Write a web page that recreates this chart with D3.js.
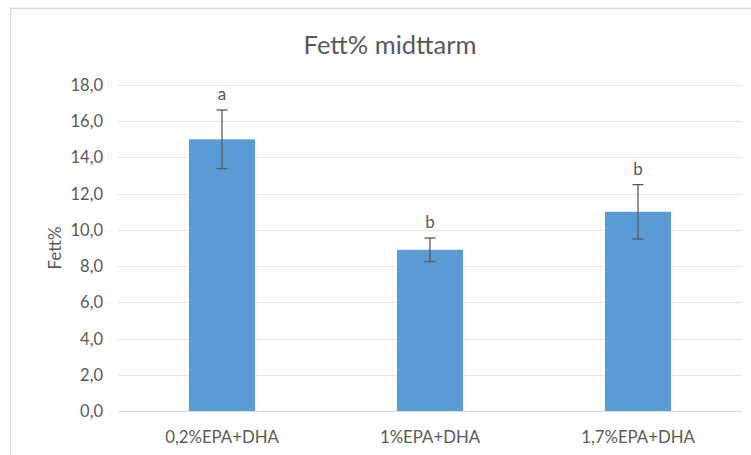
<!DOCTYPE html>
<html>
<head>
<meta charset="utf-8">
<script src="https://cdn.jsdelivr.net/npm/d3@7"></script>
<style>
  body { margin: 0; background: #fff; }
  text { font-family: Lato, "Open Sans", sans-serif; fill: #595959; }
</style>
</head>
<body>
<svg id="chart" width="751" height="455"></svg>
<script>
const categories = ['0,2%EPA+DHA', '1%EPA+DHA', '1,7%EPA+DHA'];
const values = [15.0, 8.9, 11.0];
const errors = [1.62, 0.65, 1.5];
const letters = ['a', 'b', 'b'];
const yTicks = [0, 2, 4, 6, 8, 10, 12, 14, 16, 18];

const svg = d3.select('#chart');
const plot = { left: 118, right: 742, top: 85, bottom: 411 };

// chart frame (only left and top edges fall inside the window)
svg.append('path')
  .attr('d', 'M10.5,455 V8.5 H751')
  .attr('fill', 'none')
  .attr('stroke', '#d9d9d9')
  .attr('stroke-width', 1.5);

const x = d3.scaleBand()
  .domain(categories)
  .range([plot.left, plot.right])
  .paddingInner(0.683)
  .paddingOuter(0.3415);

const y = d3.scaleLinear()
  .domain([0, 18])
  .range([plot.bottom, plot.top]);

// gridlines
svg.append('g')
  .selectAll('line')
  .data(yTicks)
  .enter()
  .append('line')
  .attr('x1', plot.left)
  .attr('x2', plot.right)
  .attr('y1', d => Math.round(y(d)) + 0.5)
  .attr('y2', d => Math.round(y(d)) + 0.5)
  .attr('stroke', d => d === 0 ? '#d9d9d9' : '#e6e6e6')
  .attr('stroke-width', 1);

// y tick labels
svg.append('g')
  .selectAll('text')
  .data(yTicks)
  .enter()
  .append('text')
  .attr('x', 103)
  .attr('y', d => y(d) + 6)
  .attr('text-anchor', 'end')
  .style('font-size', '16.5px')
  .text(d => d3.format('.1f')(d).replace('.', ','));

// y axis title
svg.append('text')
  .attr('transform', `translate(61,${(plot.top + plot.bottom) / 2}) rotate(-90)`)
  .attr('text-anchor', 'middle')
  .style('font-size', '17px')
  .text('Fett%');

// chart title
svg.append('text')
  .attr('x', 390)
  .attr('y', 54)
  .attr('text-anchor', 'middle')
  .style('font-size', '25.5px')
  .text('Fett% midttarm');

// bars
svg.append('g')
  .selectAll('rect')
  .data(values)
  .enter()
  .append('rect')
  .attr('x', (d, i) => x(categories[i]))
  .attr('y', d => y(d))
  .attr('width', x.bandwidth())
  .attr('height', d => y(0) - y(d))
  .attr('fill', '#5b9bd5');

// error bars
const eb = svg.append('g')
  .attr('stroke', '#595959')
  .attr('stroke-width', 1.3);

values.forEach((v, i) => {
  const cx = x(categories[i]) + x.bandwidth() / 2;
  const top = y(v + errors[i]);
  const bot = y(v - errors[i]);
  eb.append('line').attr('x1', cx).attr('x2', cx).attr('y1', top).attr('y2', bot);
  eb.append('line').attr('x1', cx - 5.5).attr('x2', cx + 5.5).attr('y1', top).attr('y2', top);
  eb.append('line').attr('x1', cx - 5.5).attr('x2', cx + 5.5).attr('y1', bot).attr('y2', bot);
});

// significance letters
svg.append('g')
  .selectAll('text')
  .data(letters)
  .enter()
  .append('text')
  .attr('x', (d, i) => x(categories[i]) + x.bandwidth() / 2)
  .attr('y', (d, i) => y(values[i] + errors[i]) - 10)
  .attr('text-anchor', 'middle')
  .style('font-size', '17px')
  .text(d => d);

// x labels
svg.append('g')
  .selectAll('text')
  .data(categories)
  .enter()
  .append('text')
  .attr('x', d => x(d) + x.bandwidth() / 2)
  .attr('y', 443)
  .attr('text-anchor', 'middle')
  .style('font-size', '16.8px')
  .text(d => d);
</script>
</body>
</html>
